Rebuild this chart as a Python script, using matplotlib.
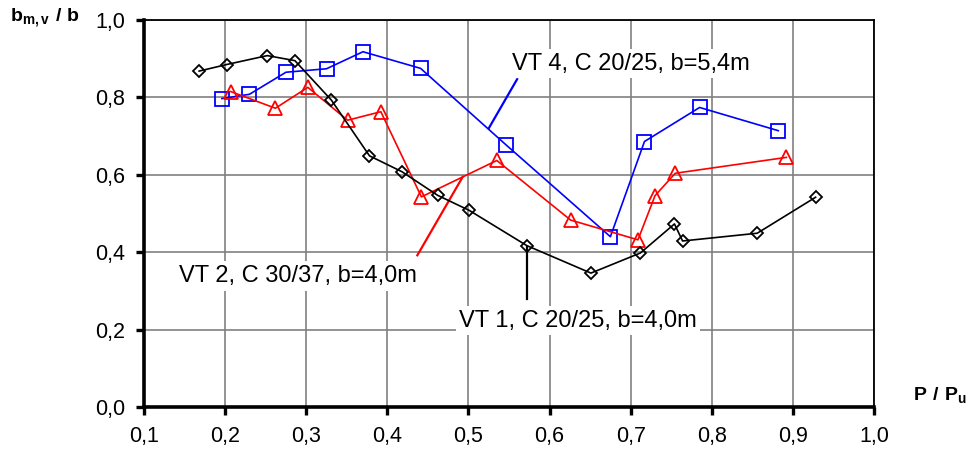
import matplotlib
matplotlib.use("Agg")
import matplotlib.pyplot as plt

plt.rcParams['font.family'] = ['Liberation Sans', 'DejaVu Sans']
plt.rcParams['mathtext.fontset'] = 'custom'
plt.rcParams['mathtext.rm'] = 'Liberation Sans'
plt.rcParams['mathtext.bf'] = 'Liberation Sans:bold'

# VT 1, C 20/25, b=4,0m
vt1_x = [0.168, 0.202, 0.252, 0.286, 0.331, 0.378, 0.418, 0.462, 0.501, 0.572,
         0.651, 0.712, 0.754, 0.764, 0.856, 0.928]
vt1_y = [0.868, 0.885, 0.908, 0.895, 0.793, 0.649, 0.608, 0.547, 0.508, 0.417,
         0.346, 0.398, 0.473, 0.429, 0.449, 0.542]

# VT 2, C 30/37, b=4,0m
vt2_x = [0.207, 0.262, 0.302, 0.351, 0.392, 0.442, 0.535, 0.626, 0.709, 0.730,
         0.755, 0.892]
vt2_y = [0.815, 0.772, 0.826, 0.741, 0.763, 0.543, 0.637, 0.483, 0.432, 0.546,
         0.604, 0.645]

# VT 4, C 20/25, b=5,4m
vt4_x = [0.196, 0.230, 0.275, 0.325, 0.370, 0.441, 0.546, 0.675, 0.717, 0.785,
         0.882]
vt4_y = [0.797, 0.808, 0.865, 0.874, 0.918, 0.875, 0.678, 0.440, 0.686, 0.774,
         0.714]

x_ticks = [0.1, 0.2, 0.3, 0.4, 0.5, 0.6, 0.7, 0.8, 0.9, 1.0]
y_ticks = [0.0, 0.2, 0.4, 0.6, 0.8, 1.0]

labels = ["VT 1, C 20/25, b=4,0m", "VT 2, C 30/37, b=4,0m", "VT 4, C 20/25, b=5,4m"]

fig = plt.figure(figsize=(9.68, 4.54), dpi=100)
ax = fig.add_axes([144 / 968, 47 / 454, 730 / 968, 387 / 454])

ax.set_xlim(0.1, 1.0)
ax.set_ylim(0.0, 1.0)
ax.set_xticks(x_ticks)
ax.set_yticks(y_ticks)
ax.set_xticklabels([f"{v:.1f}".replace(".", ",") for v in x_ticks])
ax.set_yticklabels([f"{v:.1f}".replace(".", ",") for v in y_ticks])
ax.grid(True, color="#808080", linewidth=1.2, zorder=0)
ax.set_axisbelow(True)

for side in ("left", "bottom"):
    ax.spines[side].set_linewidth(2.6)
for side in ("top", "right"):
    ax.spines[side].set_linewidth(1.3)
ax.tick_params(axis="both", direction="out", length=5.5, width=2.4,
               labelsize=15.5, color="black")
ax.tick_params(axis="x", pad=8)
ax.tick_params(axis="y", pad=8)

ax.plot(vt4_x, vt4_y, color="#0000ff", lw=1.2, marker="s", ms=9.5,
        mfc="none", mec="#0000ff", mew=1.3, zorder=4)
ax.plot(vt2_x, vt2_y, color="#ff0000", lw=1.2, marker="^", ms=10,
        mfc="none", mec="#ff0000", mew=1.3, zorder=5)
ax.plot(vt1_x, vt1_y, color="black", lw=1.2, marker="D", ms=6,
        mfc="none", mec="black", mew=1.3, zorder=6)

# leader lines from labels to curves
ax.plot([0.572, 0.572], [0.280, 0.413], color="black", lw=1.6, zorder=3)
ax.plot([0.437, 0.493], [0.392, 0.595], color="#ff0000", lw=1.6, zorder=3)
ax.plot([0.560, 0.525], [0.847, 0.720], color="#0000ff", lw=1.6, zorder=3)

box = dict(boxstyle="square,pad=0.15", fc="white", ec="none")
ax.text(0.635, 0.208, labels[0], fontsize=17, ha="center", va="baseline",
        bbox=box, zorder=3)
ax.text(0.290, 0.323, labels[1], fontsize=17, ha="center", va="baseline",
        bbox=box, zorder=3)
ax.text(0.700, 0.872, labels[2], fontsize=17, ha="center", va="baseline",
        bbox=box, zorder=3)

fig.text(10 / 968, 1 - 18 / 454, r"$\mathbf{b_{m,v}\ /\ b}$", fontsize=14,
         ha="left", va="center")
fig.text(913 / 968, 1 - 395 / 454, r"$\mathbf{P\ /\ P_u}$", fontsize=14,
         ha="left", va="center")

fig.savefig("out.png", dpi=100)
